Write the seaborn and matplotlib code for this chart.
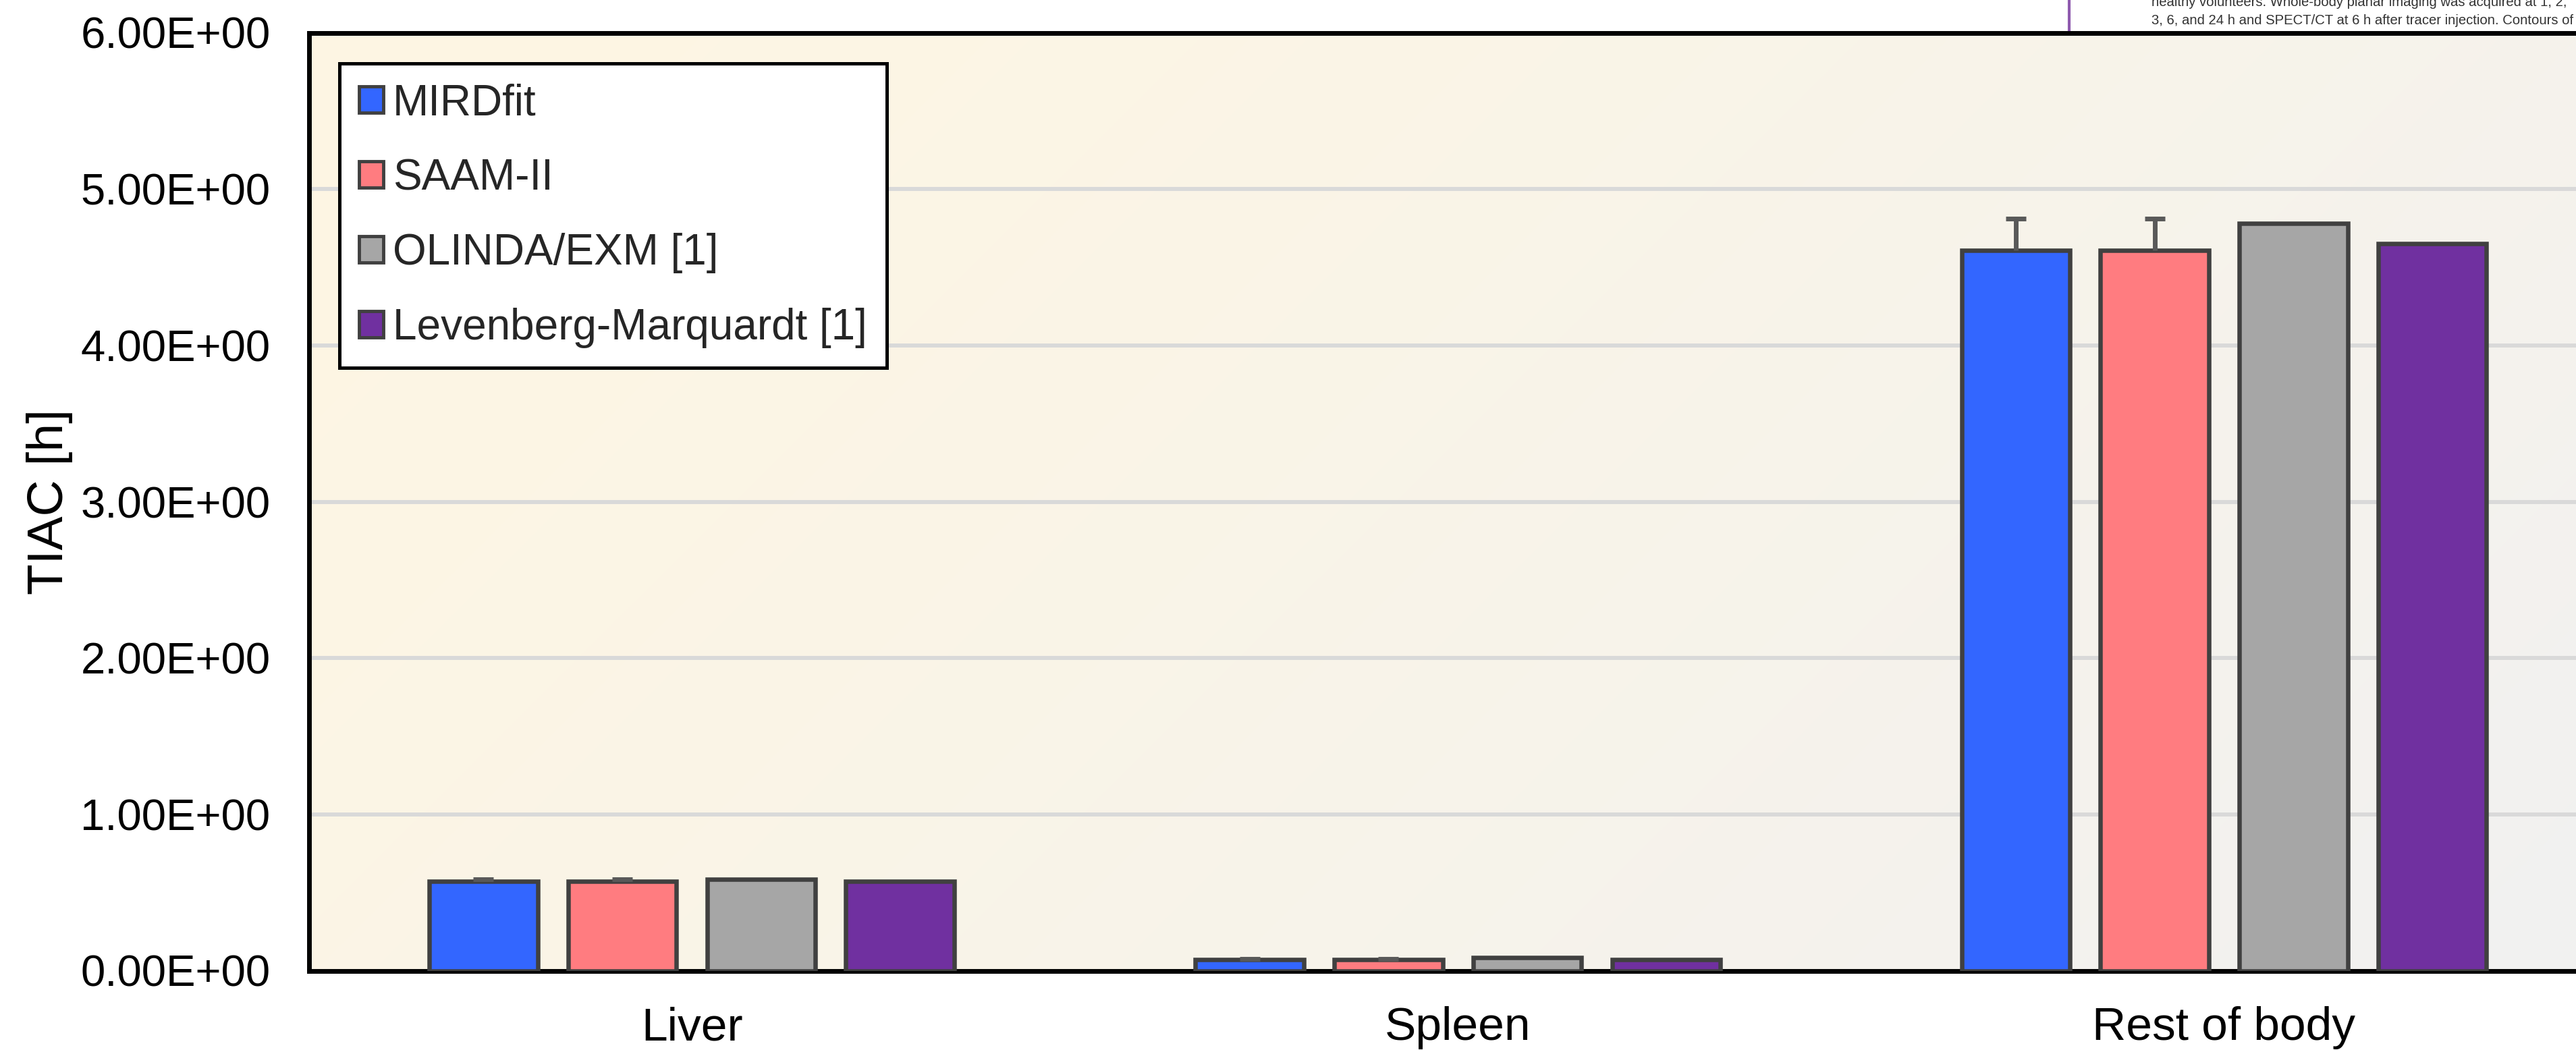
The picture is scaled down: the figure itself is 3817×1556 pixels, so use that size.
import numpy as np
import pandas as pd
import matplotlib
matplotlib.use("Agg")
import matplotlib.pyplot as plt
from matplotlib.patches import Patch
from matplotlib.lines import Line2D
from matplotlib.colors import to_rgb
from matplotlib.ticker import FuncFormatter
import seaborn as sns

# ---- data -------------------------------------------------------------
organs = ["Liver", "Spleen", "Rest of body"]
methods = ["MIRDfit", "SAAM-II", "OLINDA/EXM [1]", "Levenberg-Marquardt [1]"]

tiac_mirdfit = [0.571, 0.073, 4.61]
tiac_saam = [0.571, 0.073, 4.61]
tiac_olinda = [0.585, 0.086, 4.78]
tiac_lm = [0.571, 0.073, 4.65]

err_mirdfit = [0.016, 0.003, 0.20]
err_saam = [0.016, 0.003, 0.20]
err_olinda = [None, None, None]
err_lm = [None, None, None]

method_colors = ["#3366FF", "#FF7C80", "#A6A6A6", "#7030A0"]
y_ticks = [0, 1, 2, 3, 4, 5, 6]

caption_lines = [
    "healthy volunteers. Whole-body planar imaging was acquired at 1, 2,",
    "3, 6, and 24 h and SPECT/CT at 6 h after tracer injection. Contours of",
]

values = [tiac_mirdfit, tiac_saam, tiac_olinda, tiac_lm]
errors = [err_mirdfit, err_saam, err_olinda, err_lm]

df = pd.DataFrame(
    [(o, m, v) for m, vals in zip(methods, values) for o, v in zip(organs, vals)],
    columns=["organ", "method", "tiac"],
)

# ---- style ------------------------------------------------------------
sns.set_style("white")
plt.rcParams["font.family"] = ["Liberation Sans", "DejaVu Sans"]

W, H = 3817, 1556
fig = plt.figure(figsize=(W / 100, H / 100), dpi=100)
fig.patch.set_facecolor("white")

left_px, right_px, top_px, bottom_px = 457.5, 3863, 48.5, 1438.5
pos = [left_px / W, 1 - bottom_px / H, (right_px - left_px) / W, (bottom_px - top_px) / H]

# gradient plot-area fill (warm cream to light grey, diagonal)
bg = fig.add_axes(pos, zorder=0)
aw, ah = right_px - left_px, bottom_px - top_px
gx, gy = np.meshgrid(np.linspace(0, aw, 500), np.linspace(0, ah, 200))
t = np.clip((gx + gy) / (aw + ah), 0, 1) ** 1.25
c0, c1 = np.array(to_rgb("#FEF6E3")), np.array(to_rgb("#F1F1F1"))
img = c0[None, None, :] * (1 - t[..., None]) + c1[None, None, :] * t[..., None]
bg.imshow(img, extent=[0, 1, 0, 1], aspect="auto", origin="upper", interpolation="bilinear")
bg.set_xlim(0, 1)
bg.set_ylim(0, 1)
bg.axis("off")

ax = fig.add_axes(pos, zorder=1)
ax.set_facecolor("none")

sns.barplot(
    data=df, x="organ", y="tiac", hue="method",
    order=organs, hue_order=methods, palette=method_colors, saturation=1,
    width=0.725, gap=0.22, errorbar=None,
    edgecolor="#404040", linewidth=4.7, legend=False, ax=ax, zorder=3,
)

# one-sided error bars on the fitted methods
for container, errs in zip(ax.containers, errors):
    for bar, e in zip(container, errs):
        if e is None:
            continue
        xc = bar.get_x() + bar.get_width() / 2
        yv = bar.get_height()
        _, caps, _ = ax.errorbar(
            xc, yv, yerr=[[0], [e]], fmt="none", ecolor="#595959",
            elinewidth=5, capsize=11, capthick=5, zorder=4,
        )
        for cap in caps:
            if np.allclose(cap.get_ydata(), yv):
                cap.set_visible(False)

ax.set_xlim(-0.5, 2.5)
ax.set_ylim(0, 6)
ax.set_yticks(y_ticks)
ax.yaxis.set_major_formatter(FuncFormatter(lambda v, p: f"{v:.2E}"))
ax.yaxis.grid(True, color="#D9D9D9", linewidth=4.3)
ax.xaxis.grid(False)
ax.set_axisbelow(True)

ax.tick_params(axis="y", length=0, pad=41, labelsize=47, labelcolor="black")
ax.tick_params(axis="x", length=0, pad=38, labelsize=50, labelcolor="black")

for sp in ax.spines.values():
    sp.set_visible(True)
    sp.set_color("black")
    sp.set_linewidth(5)

ax.set_xlabel("")
ax.set_ylabel("TIAC [h]", fontsize=54, color="black")
ax.yaxis.set_label_coords(-0.1026, 0.5)

handles = [Patch(facecolor=c, edgecolor="#404040", linewidth=3.5, label=m)
           for m, c in zip(methods, method_colors)]
leg = ax.legend(
    handles=handles, loc="upper left", bbox_to_anchor=(0.0135, 0.967),
    borderaxespad=0, frameon=True, fancybox=False, framealpha=1,
    facecolor="white", edgecolor="black", fontsize=46,
    handlelength=0.56, handleheight=0.56, handletextpad=0.22,
    labelspacing=0.8, borderpad=0.45,
)
leg.get_frame().set_linewidth(3.6)
leg.set_zorder(6)

# caption fragment along the top edge
fig.add_artist(Line2D([3066 / W, 3066 / W], [1.0, 1 - 46 / H],
                      color="#8E5AAE", linewidth=3, zorder=0))
fig.text(3188 / W, 1 - 9 / H, caption_lines[0], fontsize=14.6, color="#333333",
         ha="left", va="baseline")
fig.text(3188 / W, 1 - 36 / H, caption_lines[1], fontsize=14.6, color="#333333",
         ha="left", va="baseline")

fig.savefig("out.png", dpi=100)
